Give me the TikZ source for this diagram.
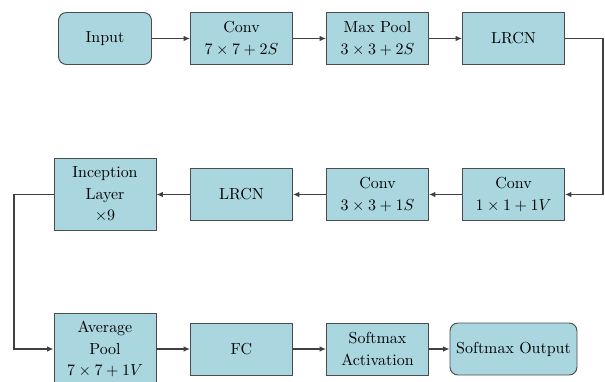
\documentclass[tikz,border=0pt]{standalone}
\usepackage{tikz}
\usetikzlibrary{arrows.meta}
\definecolor{boxfill}{RGB}{170,214,224}
\tikzset{
	layer/.style={draw=black!70, fill=boxfill, line width=0.6pt, minimum width=2.244cm, minimum height=1.144cm, align=center, inner sep=1pt,
		execute at begin node=\setlength{\baselineskip}{13.5pt}},
	tall/.style={minimum height=1.584cm},
	io/.style={rounded corners=5pt},
	flow/.style={draw=black!75, line width=0.9pt, -{Latex[length=4pt,width=3.5pt]}}
}

\begin{document}
\begin{tikzpicture}
			%%%%% START %%%%%
			
			\useasboundingbox (0, 0) rectangle (13.31, -8.382);
			
			\node[layer, io, minimum width=2.046cm] (input) at (2.31, -0.847) {Input};
			\node[layer] (convA) at (5.313, -0.847) {Conv\\$7\times7+2S$};
			\node[layer] (maxpool) at (8.305, -0.847) {Max Pool\\$3\times3+2S$};
			\node[layer] (lrcnA) at (11.297, -0.847) {LRCN};
			
			\node[layer, tall] (inception) at (2.31, -4.279) {Inception\\Layer\\$\times9$};
			\node[layer] (lrcnB) at (5.313, -4.279) {LRCN};
			\node[layer] (convB) at (8.305, -4.279) {Conv\\$3\times3+1S$};
			\node[layer] (convC) at (11.297, -4.279) {Conv\\$1\times1+1V$};
			
			\node[layer, tall] (avgpool) at (2.31, -7.678) {Average\\Pool\\$7\times7+1V$};
			\node[layer] (fc) at (5.313, -7.678) {FC};
			\node[layer] (softact) at (8.305, -7.678) {Softmax\\Activation};
			\node[layer, io, minimum width=2.794cm] (softout) at (11.297, -7.678) {Softmax Output};
			
			\coordinate (turnR) at (13.266, -0.847);
			\coordinate (turnL) at (0.308, -4.279);
			
			\draw[flow] (input) -- (convA);
			\draw[flow] (convA) -- (maxpool);
			\draw[flow] (maxpool) -- (lrcnA);
			\draw[flow] (lrcnA.east) -- (turnR) |- (convC.east);
			\draw[flow] (convC) -- (convB);
			\draw[flow] (convB) -- (lrcnB);
			\draw[flow] (lrcnB) -- (inception);
			\draw[flow] (inception.west) -- (turnL) |- (avgpool.west);
			\draw[flow] (avgpool) -- (fc);
			\draw[flow] (fc) -- (softact);
			\draw[flow] (softact) -- (softout);
			
			%%%%% END %%%%%
		\end{tikzpicture}
\end{document}
